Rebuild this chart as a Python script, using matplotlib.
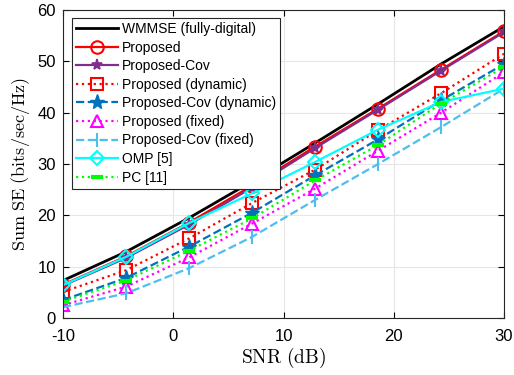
import matplotlib
matplotlib.use("Agg")
import matplotlib.pyplot as plt

plt.rcParams["font.family"] = ["Liberation Sans", "DejaVu Sans"]
plt.rcParams["mathtext.fontset"] = "cm"
plt.rcParams["axes.unicode_minus"] = False

snr = [-10, -4.29, 1.43, 7.14, 12.86, 18.57, 24.29, 30]

wmmse = [7.3, 12.9, 19.5, 26.6, 34.1, 41.7, 49.5, 56.8]
proposed = [6.5, 12.0, 18.6, 25.8, 33.4, 40.8, 48.4, 55.9]
proposed_cov = [6.3, 11.7, 18.2, 25.4, 33.1, 40.6, 48.2, 55.7]
proposed_dyn = [5.1, 9.3, 15.5, 22.4, 28.9, 36.6, 43.8, 51.5]
proposed_cov_dyn = [3.5, 7.8, 13.9, 20.5, 27.8, 34.8, 42.4, 49.5]
proposed_fixed = [2.5, 6.1, 11.8, 18.4, 25.2, 32.6, 40.0, 47.9]
proposed_cov_fixed = [2.1, 4.8, 9.7, 15.8, 23.0, 30.0, 37.2, 44.7]
omp = [6.4, 11.9, 18.5, 24.3, 30.4, 36.7, 42.1, 44.7]
pc = [3.2, 7.3, 13.1, 19.4, 26.8, 33.7, 41.8, 48.9]

fig = plt.figure(figsize=(5.14, 3.75), dpi=100)
ax = fig.add_axes([0.1226, 0.152, 0.858, 0.821])

ax.plot(snr, wmmse, color="black", lw=2, label="WMMSE (fully-digital)")
ax.plot(snr, proposed, color="#FF0000", lw=1.6, marker="o", ms=9, mfc="none", mew=1.5,
        label="Proposed")
ax.plot(snr, proposed_cov, color="#7E2F8E", lw=1.6, marker="*", ms=8, mew=1.2,
        label="Proposed-Cov")
ax.plot(snr, proposed_dyn, color="#FF0000", lw=1.6, ls=":", marker="s", ms=8, mfc="none",
        mew=1.5, label="Proposed (dynamic)")
ax.plot(snr, proposed_cov_dyn, color="#0072BD", lw=1.6, ls="--", marker="*", ms=11,
        label="Proposed-Cov (dynamic)")
ax.plot(snr, proposed_fixed, color="#FF00FF", lw=1.6, ls=":", marker="^", ms=9, mfc="none",
        mew=1.5, label="Proposed (fixed)")
ax.plot(snr, proposed_cov_fixed, color="#4DBEEE", lw=1.6, ls="--", marker="|", ms=10,
        mew=1.5, label="Proposed-Cov (fixed)")
ax.plot(snr, omp, color="#00FFFF", lw=1.6, marker="D", ms=7, mfc="none", mew=1.5,
        label="OMP [5]")
ax.plot(snr, pc, color="#00FF00", lw=1.6, ls=":", marker="_", ms=8, mew=3,
        label="PC [11]")

ax.set_xlim(-10, 30)
ax.set_ylim(0, 60)
ax.set_xticks(range(-10, 31, 10))
ax.set_yticks(range(0, 61, 10))
ax.grid(True, color="#E6E6E6", lw=0.8)
ax.set_axisbelow(True)
ax.tick_params(direction="in", top=True, right=True, labelsize=12, length=4)
ax.tick_params(axis="x", pad=8)
ax.tick_params(axis="y", pad=5)
for s in ax.spines.values():
    s.set_linewidth(0.8)
    s.set_color("#262626")

ax.set_xlabel(r"$\mathrm{SNR\ (dB)}$", fontsize=14, labelpad=1)
ax.set_ylabel(r"$\mathrm{Sum\ SE\ (bits/sec/Hz)}$", fontsize=13, labelpad=4)

leg = ax.legend(loc="upper left", bbox_to_anchor=(0.02, 0.975), fontsize=10,
                handlelength=3, handletextpad=0.3, labelspacing=0.33,
                borderpad=0.3, borderaxespad=0, fancybox=False, framealpha=1,
                edgecolor="#262626")
leg.get_frame().set_linewidth(0.8)

fig.savefig("out.png", dpi=100)
